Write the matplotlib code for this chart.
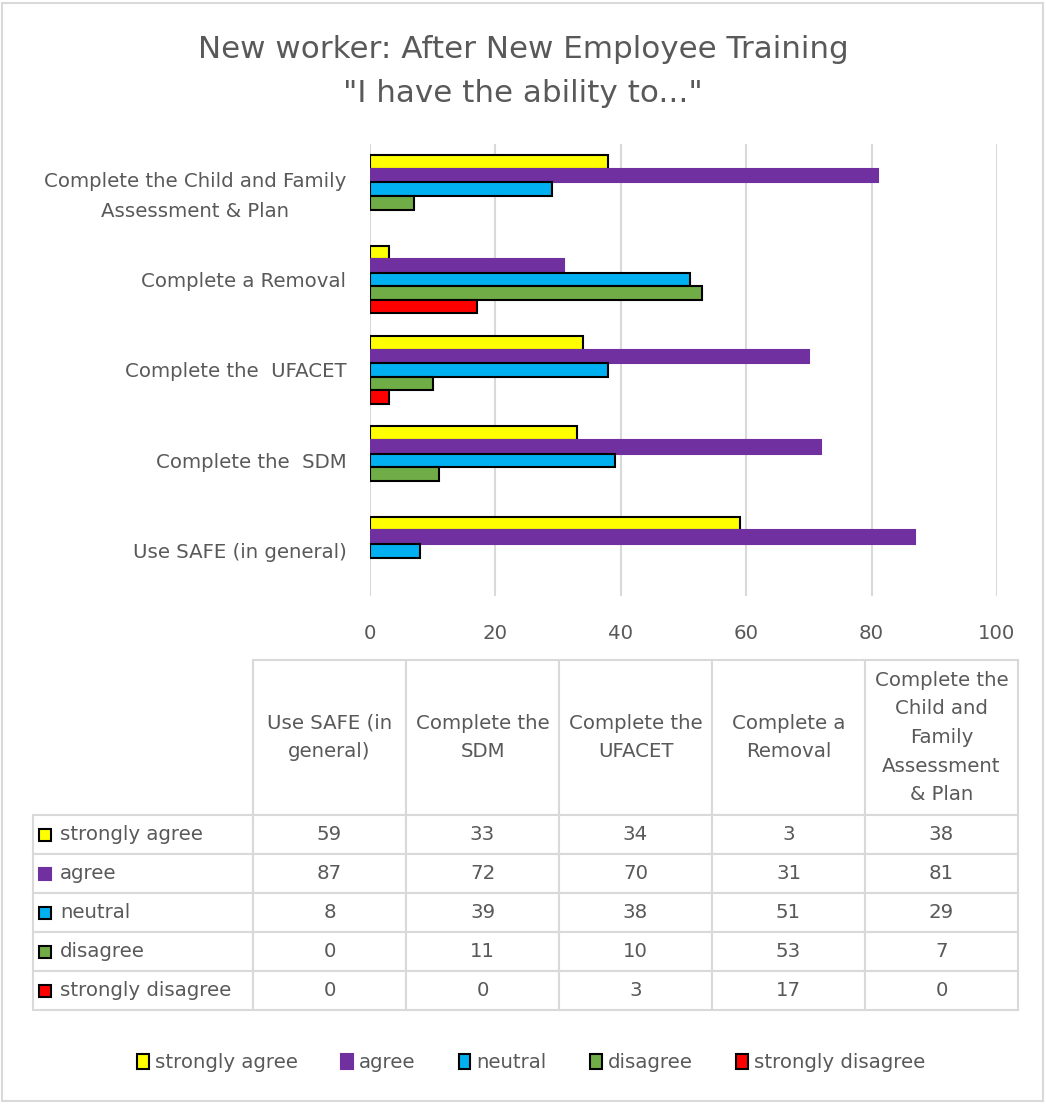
import matplotlib.pyplot as plt
import numpy as np
from matplotlib.patches import Patch, Rectangle
from matplotlib.table import Table

plt.rcParams['font.family'] = ['DejaVu Sans']

# survey items, bottom to top on the bar chart
items = ['Use SAFE (in general)', 'Complete the  SDM', 'Complete the  UFACET',
         'Complete a Removal', 'Complete the Child and Family\nAssessment & Plan']
# same items as written in the table header
col_heads = ['Use SAFE (in\ngeneral)', 'Complete the\nSDM', 'Complete the\nUFACET',
             'Complete a\nRemoval', 'Complete the\nChild and\nFamily\nAssessment\n& Plan']

answers = ['strongly agree', 'agree', 'neutral', 'disagree', 'strongly disagree']
strongly_agree = [59, 33, 34, 3, 38]
agree = [87, 72, 70, 31, 81]
neutral = [8, 39, 38, 51, 29]
disagree = [0, 11, 10, 53, 7]
strongly_disagree = [0, 0, 3, 17, 0]
counts = [strongly_agree, agree, neutral, disagree, strongly_disagree]

colors = ['#FFFF00', '#7030A0', '#00B0F0', '#70AD47', '#FF0000']
edges = ['black', '#7030A0', 'black', 'black', 'black']
grey = '#595959'
line = '#D9D9D9'
fs = 14.2

W, H = 1046, 1104
fig = plt.figure(figsize=(W / 100, H / 100), dpi=100)

# light frame round the whole chart
fig.patches.append(Rectangle((2 / W, 3 / H), 1 - 5 / W, 1 - 6 / H, transform=fig.transFigure,
                             fill=False, edgecolor=line, linewidth=1.5))

fig.text(0.5, 1 - 49 / H, 'New worker: After New Employee Training', ha='center', va='center',
         fontsize=22.3, color=grey)
fig.text(0.5, 1 - 94 / H, '"I have the ability to..."', ha='center', va='center',
         fontsize=22.3, color=grey)

# bar chart
ax = fig.add_axes([370 / W, 1 - 596 / H, 627 / W, 452 / H])
y = np.arange(len(items))
h = 0.15
offsets = [0.3, 0.15, 0.0, -0.15, -0.3]
for vals, off, c, ec in zip(counts, offsets, colors, edges):
    bars = ax.barh(y + off, vals, height=h, color=c, edgecolor=ec, linewidth=1.5, zorder=3)
    for b in bars:
        if b.get_width() == 0:
            b.set_linewidth(0)

ax.set_xlim(0, 100)
ax.set_ylim(-0.5, 4.5)
ax.set_xticks(range(0, 101, 20))
ax.set_yticks(y)
ax.set_yticklabels(items, multialignment='center')
ax.tick_params(length=0, labelsize=fs, labelcolor=grey)
ax.tick_params(axis='x', pad=20)
ax.tick_params(axis='y', pad=17)
ax.grid(axis='x', color=line, linewidth=1.5, zorder=0)
for s in ax.spines.values():
    s.set_visible(False)
for t in ax.get_yticklabels():
    t.set_linespacing(1.7)

# data table under the chart
tx0, tx1, ty0, ty1 = 33, 1018, 660, 1010
tax = fig.add_axes([tx0 / W, 1 - ty1 / H, (tx1 - tx0) / W, (ty1 - ty0) / H])
tax.set_axis_off()
widths = [220] + [153] * 5
heights = [155] + [39] * 5
tw, th = sum(widths), sum(heights)

tb = Table(tax, bbox=[0, 0, 1, 1])
for r in range(6):
    for c in range(6):
        if r == 0 and c == 0:
            txt, loc = '', 'center'
        elif r == 0:
            txt, loc = col_heads[c - 1], 'center'
        elif c == 0:
            txt, loc = answers[r - 1], 'left'
        else:
            txt, loc = str(counts[r - 1][c - 1]), 'center'
        cell = tb.add_cell(r, c, widths[c] / tw, heights[r] / th, text=txt, loc=loc,
                           edgecolor=line, facecolor='white')
        cell.set_linewidth(1.5)
        cell.get_text().set_color(grey)
        cell.get_text().set_fontsize(fs)
        cell.get_text().set_linespacing(1.65)
        if c == 0:
            cell.PAD = 27 / 220
        if r == 0 and c == 0:
            cell.visible_edges = 'open'
tb.auto_set_font_size(False)
tax.add_table(tb)

# legend keys inside the row label cells
ytop = th - heights[0]
for i, (c, ec) in enumerate(zip(colors, edges)):
    yc = (ytop - 39 * i - 19.5) / th
    tax.add_patch(Rectangle((6 / tw, yc - 6 / th), 12 / tw, 12 / th, facecolor=c,
                            edgecolor=ec, linewidth=1.5, transform=tax.transAxes, zorder=5))

handles = [Patch(facecolor=c, edgecolor=ec, linewidth=1.5) for c, ec in zip(colors, edges)]
fig.legend(handles, answers, loc='center', bbox_to_anchor=(531 / W, 1 - 1063 / H), ncol=5,
           frameon=False, fontsize=fs, labelcolor=grey, handlelength=0.6, handleheight=0.8,
           handletextpad=0.3, columnspacing=2.2)

fig.savefig('out.png', dpi=100)
